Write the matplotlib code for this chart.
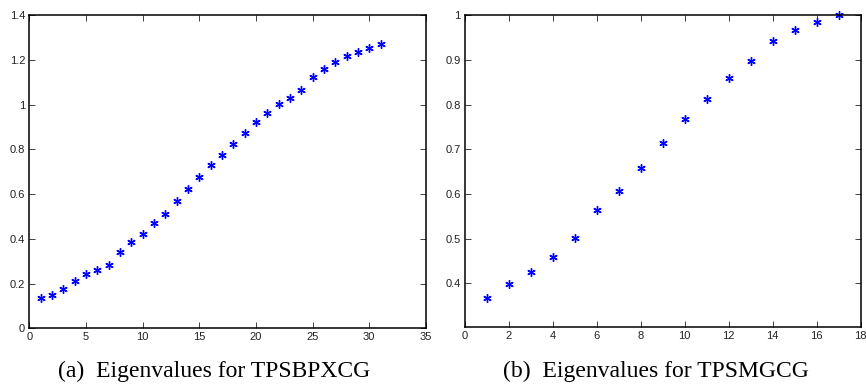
import matplotlib
matplotlib.use("Agg")
import matplotlib.pyplot as plt
import numpy as np

# Data
idx_a = list(range(1, 32))
eig_a = [0.134, 0.148, 0.174, 0.212, 0.241, 0.262, 0.284, 0.343, 0.385, 0.422,
         0.470, 0.513, 0.571, 0.622, 0.677, 0.732, 0.777, 0.826, 0.875, 0.921,
         0.964, 1.004, 1.030, 1.065, 1.125, 1.159, 1.193, 1.220, 1.236, 1.254, 1.271]
idx_b = list(range(1, 18))
eig_b = [0.368, 0.399, 0.426, 0.460, 0.502, 0.564, 0.607, 0.658, 0.715, 0.768,
         0.812, 0.860, 0.897, 0.943, 0.966, 0.985, 1.000]

xticks_a = [0, 5, 10, 15, 20, 25, 30, 35]
yticks_a = [0, 0.2, 0.4, 0.6, 0.8, 1.0, 1.2, 1.4]
yticklabels_a = ["0", "0.2", "0.4", "0.6", "0.8", "1", "1.2", "1.4"]
xticks_b = [0, 2, 4, 6, 8, 10, 12, 14, 16, 18]
yticks_b = [0.4, 0.5, 0.6, 0.7, 0.8, 0.9, 1.0]
yticklabels_b = ["0.4", "0.5", "0.6", "0.7", "0.8", "0.9", "1"]

caption_a = "(a)\u2002Eigenvalues for TPSBPXCG"
caption_b = "(b)\u2002Eigenvalues for TPSMGCG"

fig = plt.figure(figsize=(8.66, 3.87), dpi=100)
ax1 = fig.add_axes([0.0338, 0.1517, 0.458, 0.8088])
ax2 = fig.add_axes([0.5366, 0.1558, 0.4573, 0.8047])

tick_font = dict(family=["Liberation Sans", "DejaVu Sans"], size=8)

def style(ax, xt, yt, ytl, xlim, ylim):
    ax.set_xlim(*xlim)
    ax.set_ylim(*ylim)
    ax.set_xticks(xt)
    ax.set_xticklabels([str(v) for v in xt], **tick_font)
    ax.set_yticks(yt)
    ax.set_yticklabels(ytl, **tick_font)
    ax.tick_params(direction="in", length=4, width=0.6, top=True, right=True,
                   pad=3, colors="#222222")
    ax.tick_params(labelcolor="#222222")
    for s in ax.spines.values():
        s.set_linewidth(1.1)
        s.set_color("black")

marker = (6, 2, 0)
ax1.plot(idx_a, eig_a, linestyle="none", marker=marker, markersize=6,
         markeredgewidth=1.0, color="blue", clip_on=False)
ax2.plot(idx_b, eig_b, linestyle="none", marker=marker, markersize=6,
         markeredgewidth=1.0, color="blue", clip_on=False)

style(ax1, xticks_a, yticks_a, yticklabels_a, (0, 35), (0, 1.4))
style(ax2, xticks_b, yticks_b, yticklabels_b, (0, 18), (0.303, 1.0))

cap_font = dict(family=["Liberation Serif", "DejaVu Serif"], size=17)
fig.text(214 / 866, 1 - 377 / 387, caption_a, ha="center", va="baseline", **cap_font)
fig.text(656 / 866, 1 - 377 / 387, caption_b, ha="center", va="baseline", **cap_font)

fig.savefig("out.png", dpi=100)
